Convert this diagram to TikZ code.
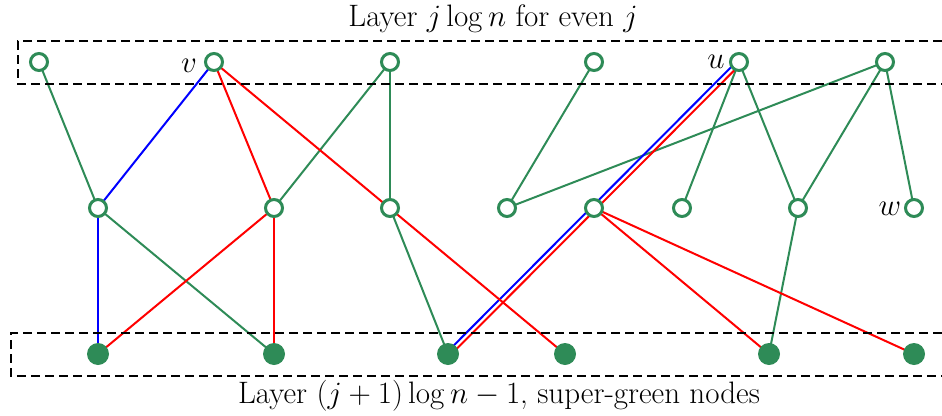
\RequirePackage{fix-cm}
\documentclass[tikz,border=0pt]{standalone}
\usetikzlibrary{backgrounds}
\definecolor{sgreen}{RGB}{46,139,87}
\begin{document}
\begin{tikzpicture}[x=1pt,y=-1pt,
  hollow/.style={circle,draw=sgreen,line width=3pt,fill=white,minimum size=17pt,inner sep=0pt},
  solid/.style={circle,fill=sgreen,minimum size=22pt,inner sep=0pt},
  ge/.style={draw=sgreen,line width=2pt},
  be/.style={draw=blue,line width=2pt},
  re/.style={draw=red,line width=2pt},
  box/.style={draw=black,line width=2.5pt,dash pattern=on 9pt off 5pt},
  lbl/.style={font=\fontsize{31}{36}\selectfont,anchor=base}]
\useasboundingbox (0,0) rectangle (942,415);
% layer boxes
\draw[box] (942,41) -- (18,41) -- (18,84) -- (942,84);
\draw[box] (942,333) -- (11,333) -- (11,376) -- (942,376);
% top layer
\node[hollow] (t1) at (39,62) {};
\node[hollow] (t2) at (214,62) {};
\node[hollow] (t3) at (390,62) {};
\node[hollow] (t4) at (594,62) {};
\node[hollow] (t5) at (739,62) {};
\node[hollow] (t6) at (885,62) {};
% middle layer
\node[hollow] (m1) at (98,208) {};
\node[hollow] (m2) at (274,208) {};
\node[hollow] (m3) at (390,208) {};
\node[hollow] (m4) at (507,208) {};
\node[hollow] (m5) at (594,208) {};
\node[hollow] (m6) at (682,208) {};
\node[hollow] (m7) at (798,208) {};
\node[hollow] (m8) at (914,208) {};
% bottom layer
\node[solid] (b1) at (98,354) {};
\node[solid] (b2) at (274,354) {};
\node[solid] (b3) at (448,354) {};
\node[solid] (b4) at (565,354) {};
\node[solid] (b5) at (769,354) {};
\node[solid] (b6) at (914,354) {};
% labels
\node[lbl] (lv) at (189,72) {$v$};
\node[lbl] (lu) at (716,68) {$u$};
\node[lbl] (lw) at (890,215) {$w$};
\node[lbl] (top) at (493,27) {Layer $j\log n$ for even $j$};
\node[lbl] (bot) at (499,403) {Layer $(j+1)\log n-1$, super-green nodes};
\begin{pgfonlayer}{background}
% green edges
\draw[ge] (t1.center) -- (m1.center);
\draw[ge] (t3.center) -- (m2.center);
\draw[ge] (t3.center) -- (m3.center);
\draw[ge] (t4.center) -- (m4.center);
\draw[ge] (t6.center) -- (m4.center);
\draw[ge] (t5.center) -- (m6.center);
\draw[ge] (t5.center) -- (m7.center);
\draw[ge] (t6.center) -- (m7.center);
\draw[ge] (t6.center) -- (m8.center);
\draw[ge] (m1.center) -- (b2.center);
\draw[ge] (m3.center) -- (b3.center);
\draw[ge] (m7.center) -- (b5.center);
% blue edges
\draw[be] (t2.center) -- (m1.center);
\draw[be] (m1.center) -- (b1.center);
\draw[be] ([shift={(-1.4,-1.4)}]t5.center) -- ([shift={(-1.4,-1.4)}]b3.center);
% red edges
\draw[re] (t2.center) -- (m2.center);
\draw[re] (t2.center) -- (b4.center);
\draw[re] (m2.center) -- (b1.center);
\draw[re] (m2.center) -- (b2.center);
\draw[re] ([shift={(1.8,1.8)}]t5.center) -- ([shift={(1.8,1.8)}]b3.center);
\draw[re] (m5.center) -- (b5.center);
\draw[re] (m5.center) -- (b6.center);
\end{pgfonlayer}
\end{tikzpicture}
\end{document}
